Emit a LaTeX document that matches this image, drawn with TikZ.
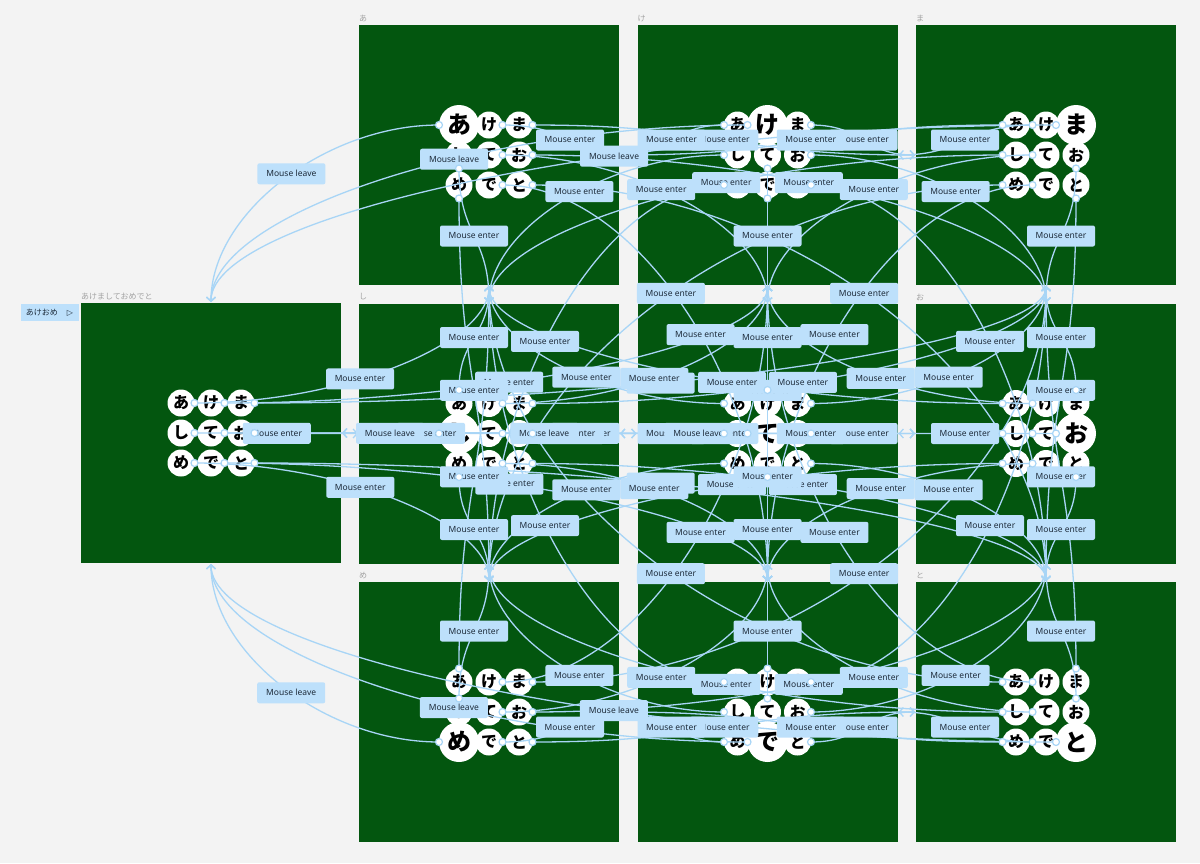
\documentclass[tikz,border=0pt]{standalone}
\usepackage{fontspec}
\setmainfont{Noto Sans}
\newfontfamily\jpfont{Noto Sans CJK JP}
\newfontfamily\symfont{DejaVu Sans}
\usetikzlibrary{arrows.meta,calc,decorations.markings}

\definecolor{canvas}{HTML}{F3F3F3}
\definecolor{framegreen}{HTML}{03560F}
\definecolor{linkblue}{HTML}{A8D5F6}
\definecolor{tagblue}{HTML}{BDE0FB}
\definecolor{tagtext}{HTML}{1D2B3A}
\definecolor{namegray}{HTML}{A3A3A3}

% letters of the greeting: name/char/column/row
\def\letters{a/あ/0/0,ke/け/1/0,ma/ま/2/0,shi/し/0/1,te/て/1/1,o/お/2/1,me/め/0/2,de/で/1/2,to/と/2/2}

% sides for a link from screen (#1,#2) to screen (#3,#4)
\newcommand\linksides[4]{%
  \pgfmathtruncatemacro\dcol{(#3)-(#1)}%
  \pgfmathtruncatemacro\drow{(#4)-(#2)}%
  \ifnum\drow=0
    \def\linktype{0}%
    \ifnum\dcol>0 \def\fromside{east}\def\toside{west}%
    \else \def\fromside{west}\def\toside{east}\fi
  \else
    \ifnum\drow>0 \def\toside{north}\else \def\toside{south}\fi
    \ifnum\dcol=0
      \def\linktype{1}%
      \ifnum\drow>0 \def\fromside{south}\else \def\fromside{north}\fi
    \else
      \def\linktype{2}%
      \ifnum\dcol>0 \def\fromside{east}\else \def\fromside{west}\fi
    \fi
  \fi}

% one prototype link: source node, target frame, id
\newcommand\drawlink[3]{%
  \coordinate (s) at (#1.\fromside);
  \coordinate (t) at (#2.\toside);
  \ifcase\linktype
    \coordinate (c1) at ($(s)!.5!(s -| t)$);
    \coordinate (c2) at ($(t)!.5!(s |- t)$);
  \or
    \coordinate (c1) at ($(s)!.5!(s |- t)$);
    \coordinate (c2) at ($(t)!.5!(s -| t)$);
  \or
    \coordinate (c1) at ($(s)!.5!(s -| t)$);
    \coordinate (c2) at ($(t)!.5!(s -| t)$);
  \fi
  \draw[link, labelat=#3] (s) .. controls (c1) and (c2) .. (t);
  \coordinate (from-#3) at (s);
}

\begin{document}
\begin{tikzpicture}[
    x=1pt, y=1pt,
    screen/.style={rectangle, fill=framegreen, minimum width=260pt, minimum height=260pt, inner sep=0pt, outer sep=0pt},
    screenname/.style={anchor=south west, inner sep=0pt, yshift=3pt, text=namegray, font=\jpfont\fontsize{8}{8}\selectfont},
    starttag/.style={rectangle, fill=tagblue, text=tagtext, minimum width=58pt, minimum height=17pt, inner sep=0pt, font=\jpfont\fontsize{8}{8}\selectfont},
    bubble/.style={circle, fill=white, minimum size=27pt, inner sep=0pt, outer sep=0pt, font=\jpfont\bfseries\fontsize{16}{16}\selectfont},
    bigbubble/.style={bubble, minimum size=40pt, font=\jpfont\bfseries\fontsize{24}{24}\selectfont},
    link/.style={draw=linkblue, line width=1.3pt, -{Straight Barb[length=4pt,width=9pt]}, shorten >=1pt},
    labelat/.style={postaction={decorate, decoration={markings, mark=at position 0.5 with {\coordinate (mid-#1);}}}},
    trigger/.style={rectangle, rounded corners=2pt, fill=tagblue, text=tagtext, minimum width=68pt, minimum height=21pt, inner sep=0pt, font=\fontsize{8.5}{10}\selectfont},
    port/.style={circle, draw=linkblue, fill=white, line width=1.2pt, minimum size=7pt, inner sep=0pt}
]

% Canvas
\fill[canvas] (0,0) rectangle (1200,-863);
\useasboundingbox (0,0) rectangle (1200,-863);

% Screens
\node[screen] (frame-main) at (211,-433) {};
\node[screenname] (name-main) at (frame-main.north west) {あけましておめでと};
\node[starttag] (start) at (49.5,-312.5) {あけおめ\hspace{9pt}{\symfont ▷}};
\foreach \nm/\ch/\cl/\rw in \letters {
  \node[screen] (frame-\nm) at (489+278.5*\cl, -155-278.5*\rw) {};
  \node[screenname] (name-\nm) at (frame-\nm.north west) {\ch};
}

% Bubbles
\foreach \nm/\ch/\cl/\rw in \letters
  \node[bubble] (main-\nm) at (181+30*\cl, -403-30*\rw) {\ch};
\foreach \fnm/\fch/\fcl/\frw [count=\i] in \letters {
  \foreach \nm/\ch/\cl/\rw [count=\j] in \letters {
    \ifnum\i=\j\else
      \node[bubble] (\fnm-\nm) at (459+278.5*\fcl+30*\cl, -125-278.5*\frw-30*\rw) {\ch};
    \fi
  }
  \node[bigbubble] (\fnm-\fnm) at (459+278.5*\fcl+30*\fcl, -125-278.5*\frw-30*\frw) {\fch};
}

% Links
\foreach \nm/\ch/\cl/\rw in \letters {
  \linksides{-1}{1}{\cl}{\rw}
  \drawlink{main-\nm}{frame-\nm}{main-\nm}
}
\foreach \fnm/\fch/\fcl/\frw [count=\i] in \letters {
  \foreach \nm/\ch/\cl/\rw [count=\j] in \letters {
    \ifnum\i=\j
      \linksides{\fcl}{\frw}{-1}{1}\def\tgt{main}
    \else
      \linksides{\fcl}{\frw}{\cl}{\rw}\def\tgt{\nm}
    \fi
    \drawlink{\fnm-\nm}{frame-\tgt}{\fnm-\nm}
  }
}

% Triggers
\foreach \nm/\ch/\cl/\rw in \letters
  \node[trigger] (event-main-\nm) at (mid-main-\nm) {Mouse enter};
\foreach \fnm/\fch/\fcl/\frw [count=\i] in \letters {
  \foreach \nm/\ch/\cl/\rw [count=\j] in \letters {
    \ifnum\i=\j \def\evt{Mouse leave}\else \def\evt{Mouse enter}\fi
    \node[trigger] (event-\fnm-\nm) at (mid-\fnm-\nm) {\evt};
  }
}

% Ports
\foreach \nm/\ch/\cl/\rw in \letters
  \node[port] (port-main-\nm) at (from-main-\nm) {};
\foreach \fnm/\fch/\fcl/\frw in \letters
  \foreach \nm/\ch/\cl/\rw in \letters
    \node[port] (port-\fnm-\nm) at (from-\fnm-\nm) {};

\end{tikzpicture}
\end{document}
